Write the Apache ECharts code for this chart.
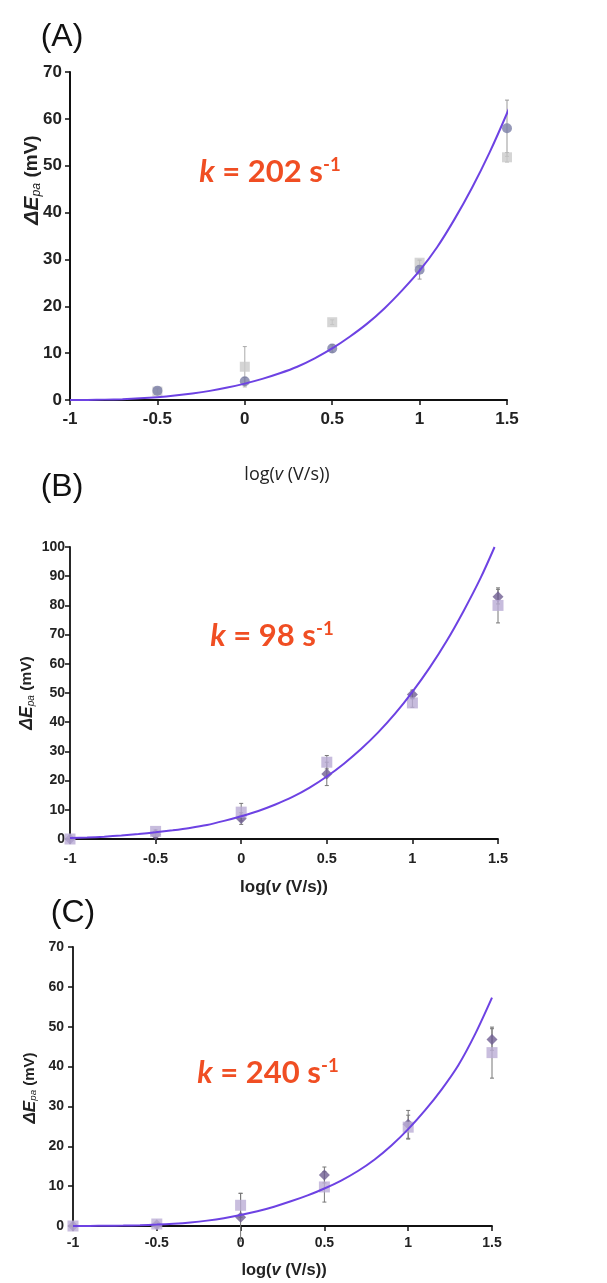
<!DOCTYPE html>
<html><head><meta charset="utf-8">
<script src="https://cdn.jsdelivr.net/npm/echarts@6/dist/echarts.min.js"></script>
<style>html,body{margin:0;padding:0;background:#fff}#c{width:607px;height:1283px}</style>
</head><body><div id="c"></div>
<script>
// ---------- data ----------
const xVals = [-1, -0.5, 0, 0.5, 1, 1.5];

// Panel A (k = 202 s-1)
const aCircle = [null, 2.0, 4.0, 11.0, 27.8, 58.0];
const aCircleErr = [0, 0.5, 0.8, 0.8, 2.0, 6.0];
const aSquare = [null, 1.8, 7.1, 16.6, 29.3, 51.8];
const aSquareErr = [0, 0, 4.3, 0.5, 0.6, 1.0];
const aCurveX = [-1,-0.9,-0.8,-0.7,-0.6,-0.5,-0.4,-0.3,-0.2,-0.1,0,0.1,0.2,0.3,0.4,0.5,0.6,0.7,0.8,0.9,1.0,1.1,1.2,1.3,1.4,1.5,1.56];
const aCurveY = [0,0.02,0.08,0.18,0.35,0.6,0.95,1.4,1.95,2.65,3.5,4.5,5.7,7.1,8.9,11.0,13.5,16.3,19.6,23.4,27.6,32.6,38.6,45.3,52.8,61.2,66.8];

// Panel B (k = 98 s-1)
const bDiamond = [0, 1.5, 7.0, 22.3, 49.5, 83.0];
const bDiamondErr = [0, 0.8, 2.0, 4.0, 1.5, 2.5];
const bSquare = [0, 2.6, 9.2, 26.3, 46.6, 80.0];
const bSquareErr = [0, 0.5, 3.0, 2.3, 1.5, 6.0];
const bCurveX = [-1,-0.9,-0.8,-0.7,-0.6,-0.5,-0.4,-0.3,-0.2,-0.1,0,0.1,0.2,0.3,0.4,0.5,0.6,0.7,0.8,0.9,1.0,1.1,1.2,1.3,1.4,1.48];
const bCurveY = [0.3,0.5,0.8,1.2,1.7,2.3,3.0,3.8,4.8,6.2,7.8,9.6,11.8,14.4,17.6,21.4,25.8,30.8,36.5,43.0,50.4,58.6,67.8,78.2,89.6,100.0];

// Panel C (k = 240 s-1)
const cDiamond = [0, 0.3, 2.2, 12.8, 25.5, 46.8];
const cDiamondErr = [0, 0.3, 6.0, 2.0, 3.5, 2.7];
const cSquare = [0, 0.5, 5.2, 9.8, 24.8, 43.5];
const cSquareErr = [0, 0.3, 3.0, 3.8, 3.0, 6.4];
const cCurveX = [-1,-0.9,-0.8,-0.7,-0.6,-0.5,-0.4,-0.3,-0.2,-0.1,0,0.1,0.2,0.3,0.4,0.5,0.6,0.7,0.8,0.9,1.0,1.1,1.2,1.3,1.4,1.5];
const cCurveY = [0,0.02,0.05,0.1,0.2,0.35,0.58,0.9,1.35,1.95,2.75,3.7,4.85,6.2,7.7,9.4,11.4,13.8,16.7,20.2,24.3,29.0,34.3,40.4,48.2,57.3];

const yMaxes = [70, 100, 70];
const panelLabels = ['(A)', '(B)', '(C)'];
const kValues = ['202', '98', '240'];

// ---------- helpers ----------
const pts = (xs, ys) => xs.map((x, i) => [x, ys[i]]).filter(p => p[1] !== null);
const errs = (xs, ys, es) => xs.map((x, i) => [x, ys[i] - es[i], ys[i] + es[i]]).filter((p, i) => ys[i] !== null && es[i] > 0);
const NARROW = "'Liberation Sans Narrow','Arial Narrow','Liberation Sans',Arial,sans-serif";

function errSeries(data, idx, color) {
  return {
    type: 'custom', xAxisIndex: idx, yAxisIndex: idx, data: data, z: 1,
    renderItem: function (params, api) {
      const x = api.value(0);
      const p1 = api.coord([x, api.value(1)]);
      const p2 = api.coord([x, api.value(2)]);
      const st = { stroke: color, lineWidth: 1 };
      return { type: 'group', children: [
        { type: 'line', shape: { x1: p1[0], y1: p1[1], x2: p2[0], y2: p2[1] }, style: st },
        { type: 'line', shape: { x1: p1[0] - 2, y1: p1[1], x2: p1[0] + 2, y2: p1[1] }, style: st },
        { type: 'line', shape: { x1: p2[0] - 2, y1: p2[1], x2: p2[0] + 2, y2: p2[1] }, style: st }
      ]};
    }
  };
}

const grids = [
  { left: 70, right: 100, top: 72, height: 328 },
  { left: 70, right: 109, top: 547, height: 292 },
  { left: 73, right: 115, top: 947, height: 279 }
];
const yFont = [17, 14, 14];
const xFont = [17, 14.5, 14];
const axLineW = [2, 1.8, 1.8];
const xMargin = [11, 12, 10];
const yMargin = [8, 5, 9];

const xAxes = grids.map((g, i) => ({
  type: 'value', gridIndex: i, min: -1, max: 1.5, interval: 0.5,
  axisLine: { show: true, onZero: false, lineStyle: { color: '#111', width: axLineW[i] } },
  axisTick: { show: true, length: 5, lineStyle: { color: '#111', width: 1.5 } },
  axisLabel: { color: '#222', fontSize: xFont[i], fontWeight: 'bold', fontFamily: NARROW, margin: xMargin[i] },
  splitLine: { show: false }
}));
const yAxes = grids.map((g, i) => ({
  type: 'value', gridIndex: i, min: 0, max: yMaxes[i], interval: 10,
  axisLine: { show: true, onZero: false, lineStyle: { color: '#111', width: axLineW[i] } },
  axisTick: { show: true, length: 5, lineStyle: { color: '#111', width: 1.5 } },
  axisLabel: { color: '#222', fontSize: yFont[i], fontWeight: 'bold', fontFamily: NARROW, margin: yMargin[i] },
  splitLine: { show: false }
}));

const curveStyle = { color: '#6d42e3', width: 2 };
const curveBase = { type: 'line', showSymbol: false, smooth: 0.3, clip: false, lineStyle: curveStyle, z: 3 };
const series = [
  // A
  errSeries(errs(xVals, aSquare, aSquareErr), 0, '#aaaaaa'),
  errSeries(errs(xVals, aCircle, aCircleErr), 0, '#999999'),
  Object.assign({ xAxisIndex: 0, yAxisIndex: 0, data: pts(aCurveX, aCurveY) }, curveBase),
  { type: 'scatter', xAxisIndex: 0, yAxisIndex: 0, data: pts(xVals, aSquare), symbol: 'rect', symbolSize: 10, itemStyle: { color: '#cbcbcb' }, z: 2 },
  { type: 'scatter', xAxisIndex: 0, yAxisIndex: 0, data: pts(xVals, aCircle), symbol: 'circle', symbolSize: 10, itemStyle: { color: '#7a7ea6' }, z: 2 },
  // B
  errSeries(errs(xVals, bDiamond, bDiamondErr), 1, '#777777'),
  errSeries(errs(xVals, bSquare, bSquareErr), 1, '#777777'),
  Object.assign({ xAxisIndex: 1, yAxisIndex: 1, data: pts(bCurveX, bCurveY) }, curveBase),
  { type: 'scatter', xAxisIndex: 1, yAxisIndex: 1, data: pts(xVals, bDiamond), symbol: 'diamond', symbolSize: 11, itemStyle: { color: '#6f5e92' }, z: 2 },
  { type: 'scatter', xAxisIndex: 1, yAxisIndex: 1, data: pts(xVals, bSquare), symbol: 'rect', symbolSize: 11, itemStyle: { color: '#b9abd4' }, z: 2 },
  // C
  errSeries(errs(xVals, cDiamond, cDiamondErr), 2, '#777777'),
  errSeries(errs(xVals, cSquare, cSquareErr), 2, '#777777'),
  Object.assign({ xAxisIndex: 2, yAxisIndex: 2, data: pts(cCurveX, cCurveY) }, curveBase),
  { type: 'scatter', xAxisIndex: 2, yAxisIndex: 2, data: pts(xVals, cDiamond), symbol: 'diamond', symbolSize: 11, itemStyle: { color: '#6f5e92' }, z: 2 },
  { type: 'scatter', xAxisIndex: 2, yAxisIndex: 2, data: pts(xVals, cSquare), symbol: 'rect', symbolSize: 11, itemStyle: { color: '#bbaed6' }, z: 2 }
];

// ---------- text overlays ----------
const KFONT = "Lato,'Open Sans',sans-serif";
const KCOL = '#f04e23';
const kRich = (size) => ({
  k: { fontStyle: 'italic', fontWeight: 'bold', fontSize: size, fontFamily: KFONT, fill: KCOL, verticalAlign: 'middle' },
  n: { fontWeight: 'bold', fontSize: size, fontFamily: KFONT, fill: KCOL, verticalAlign: 'middle' },
  s: { fontWeight: 'bold', fontSize: size * 0.6, fontFamily: KFONT, fill: KCOL, verticalAlign: 'top', lineHeight: size * 1.05 }
});
const kPos = [[270, 172], [272, 636], [268, 1073]];
const kSize = [31, 31, 31];
const labPos = [[62, 37], [62, 487], [73, 913]];
const yTitlePos = [[32, 180], [27, 693], [30, 1088]];
const yTitleSize = [19, 15.5, 15];
const xTitlePos = [[287, 475], [284, 887], [284, 1270]];
const xTitleBold = ['normal', 'bold', 'bold'];
const xTitleFont = ["'Open Sans',Lato,sans-serif", "'Liberation Sans',Arial,sans-serif", "'Liberation Sans',Arial,sans-serif"];
const xTitleSize = [18, 17, 16.5];

const graphics = [];
for (let i = 0; i < 3; i++) {
  graphics.push({ type: 'text', x: labPos[i][0], y: labPos[i][1], style: { text: panelLabels[i], font: "32px 'Liberation Sans',Arial,sans-serif", fill: '#111', align: 'center', verticalAlign: 'middle' } });
  graphics.push({ type: 'text', x: kPos[i][0], y: kPos[i][1], style: { text: '{k|k}{n| = ' + kValues[i] + ' s}{s|-1}', rich: kRich(kSize[i]), align: 'center', verticalAlign: 'middle' } });
  const ys = yTitleSize[i];
  const ff = "'Liberation Sans',Arial,sans-serif";
  graphics.push({ type: 'text', x: yTitlePos[i][0], y: yTitlePos[i][1], rotation: Math.PI / 2, style: {
    text: '{e|ΔE}{p|pa}{m| (mV)}', align: 'center', verticalAlign: 'middle',
    rich: {
      e: { fontStyle: 'italic', fontWeight: 'bold', fontSize: ys + 2, fontFamily: ff, fill: '#222', verticalAlign: 'middle' },
      p: { fontStyle: 'italic', fontSize: ys * 0.65, fontFamily: ff, fill: '#222', verticalAlign: 'bottom', lineHeight: ys * 1.1 },
      m: { fontWeight: 'bold', fontSize: ys, fontFamily: ff, fill: '#222', verticalAlign: 'middle' }
    } } });
  graphics.push({ type: 'text', x: xTitlePos[i][0], y: xTitlePos[i][1], style: {
    text: '{a|log(}{v|v}{a| (V/s))}', align: 'center', verticalAlign: 'middle',
    rich: {
      a: { fontSize: xTitleSize[i], fontWeight: xTitleBold[i], fontFamily: xTitleFont[i], fill: '#222' },
      v: { fontSize: xTitleSize[i], fontWeight: xTitleBold[i], fontStyle: 'italic', fontFamily: xTitleFont[i], fill: '#222' }
    } } });
}

const chart = echarts.init(document.getElementById('c'), null, { renderer: 'canvas' });
chart.setOption({
  animation: false,
  backgroundColor: '#ffffff',
  grid: grids,
  xAxis: xAxes,
  yAxis: yAxes,
  series: series,
  graphic: graphics
});
</script>
</body></html>
